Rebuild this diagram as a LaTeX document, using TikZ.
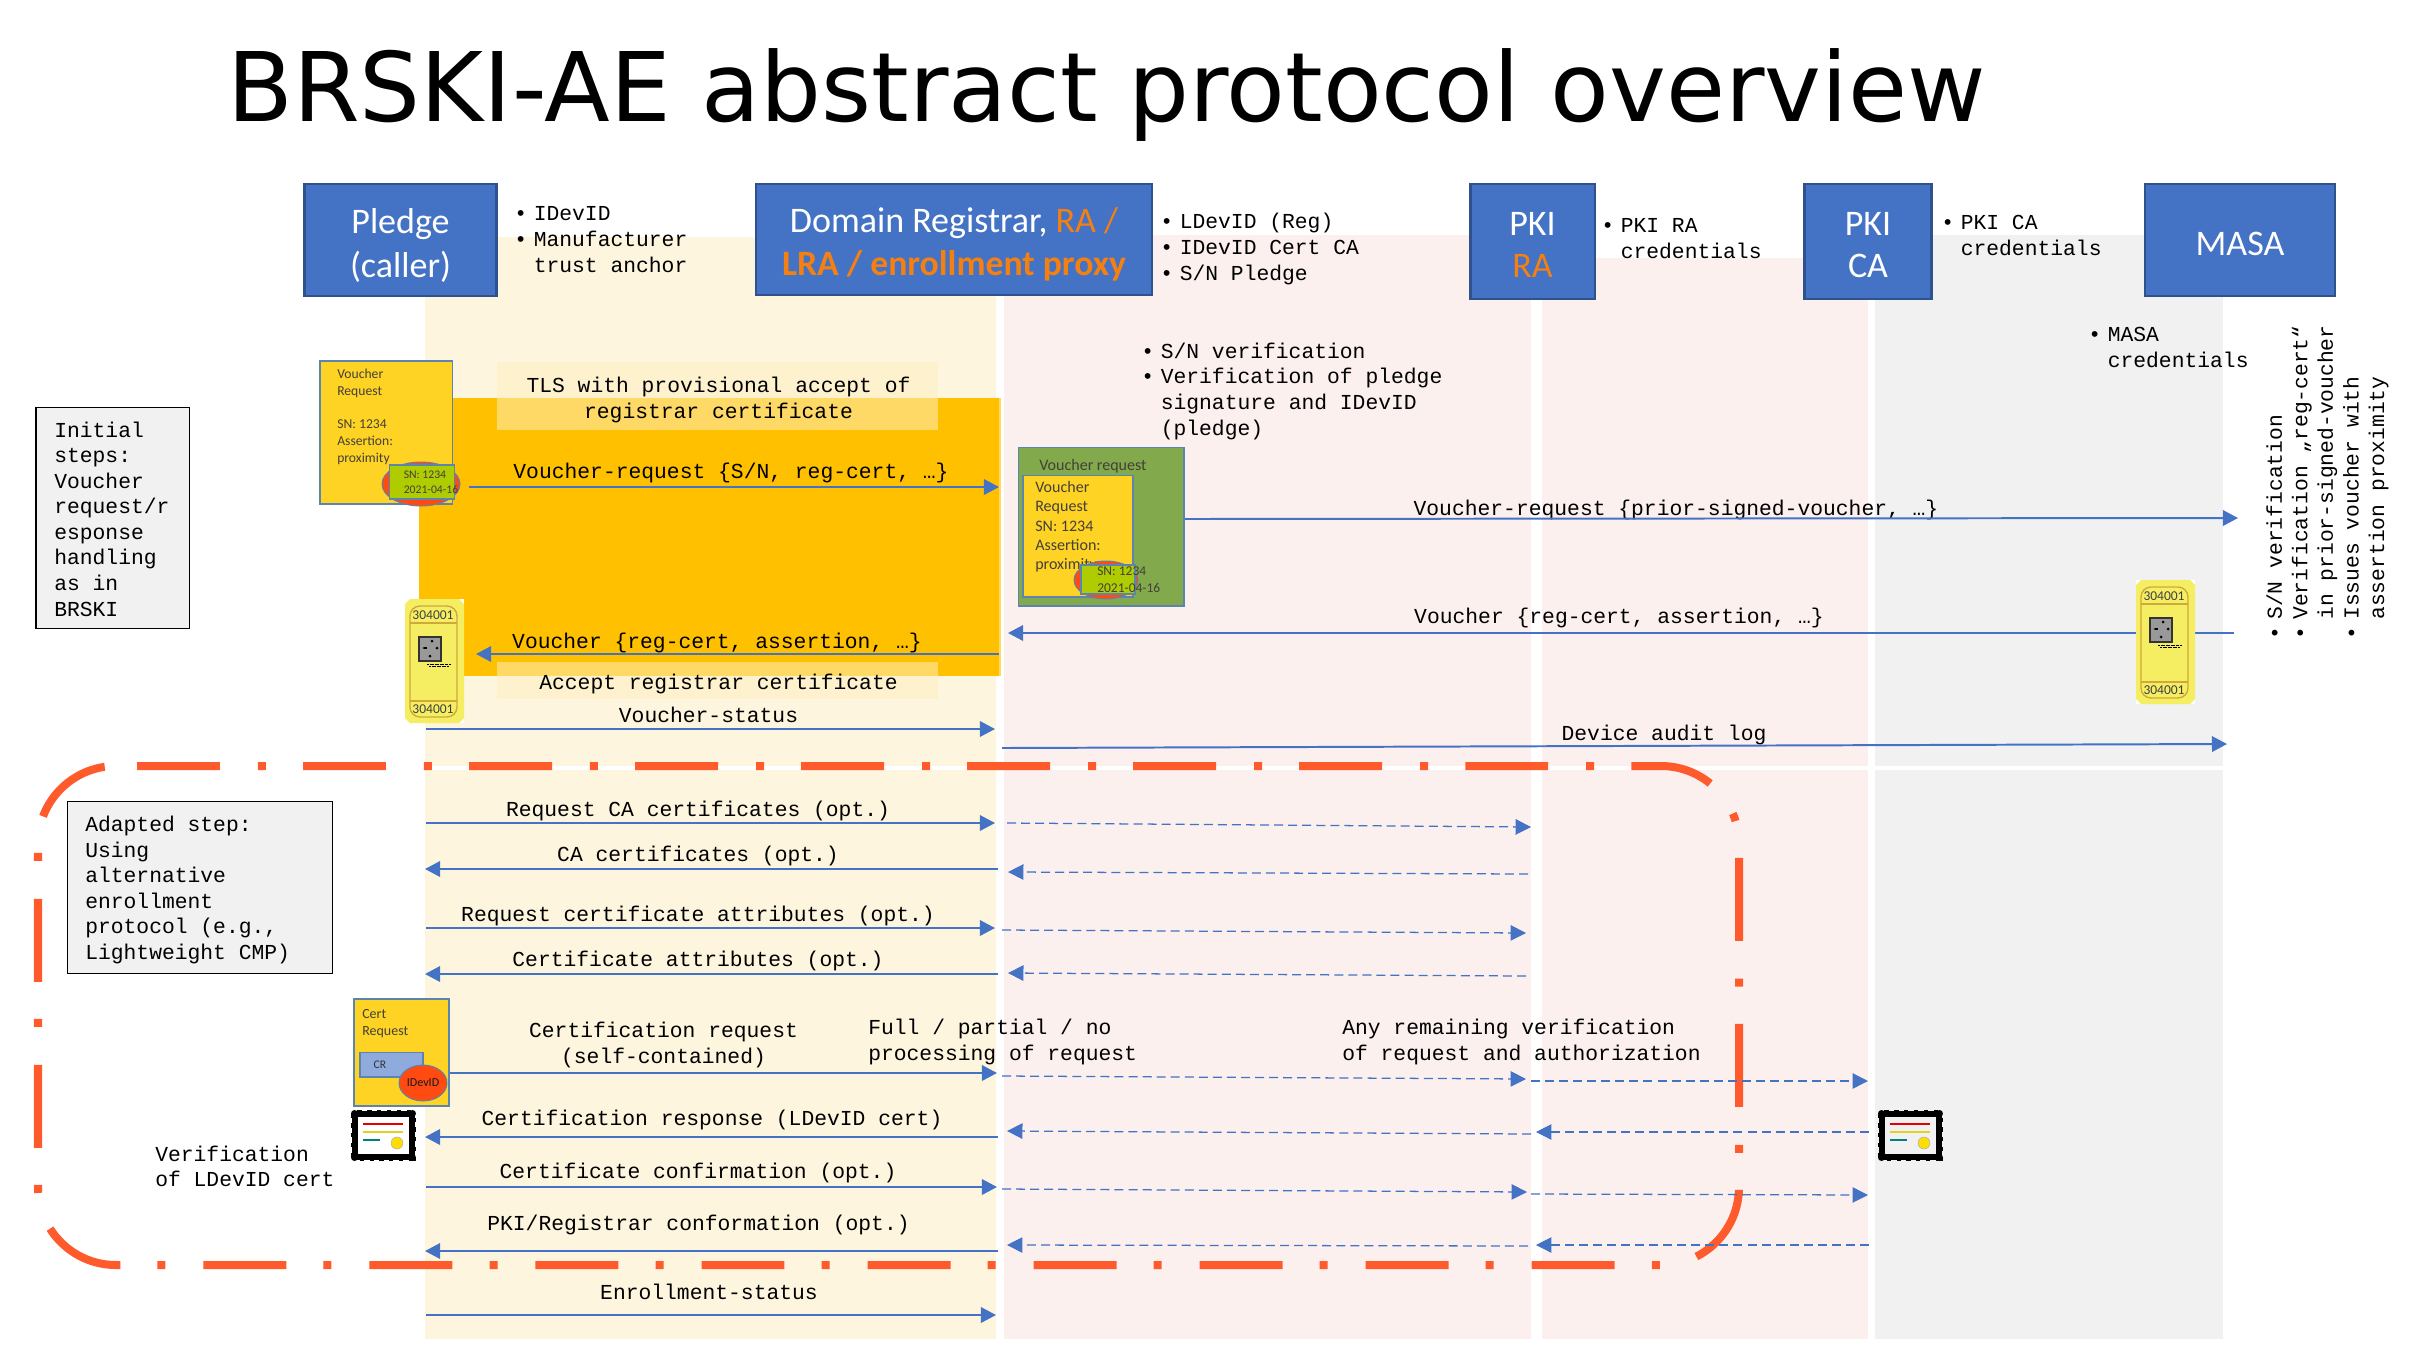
\documentclass[tikz,border=0pt]{standalone}
\usepackage{fontspec}
\setmainfont{Carlito}
\newfontfamily\monofam{Liberation Mono}
\newfontfamily\titlefam{DejaVu Sans}
\usetikzlibrary{arrows.meta}
\definecolor{bandY}{HTML}{FEF5DF}
\definecolor{bandR}{HTML}{FBF0EE}
\definecolor{bandG}{HTML}{F1F1F1}
\definecolor{actorblue}{HTML}{4472C4}
\definecolor{actoredge}{HTML}{2F528F}
\definecolor{accent}{HTML}{F58012}
\definecolor{redline}{HTML}{FF5A2B}
\definecolor{docyellow}{HTML}{FFD324}
\definecolor{sealred}{HTML}{FF4A12}
\definecolor{stampgreen}{HTML}{AECC00}
\definecolor{docedge}{HTML}{5B84AE}
\definecolor{ticketY}{HTML}{F5EE62}
\definecolor{ticketE}{HTML}{CFA93A}
\definecolor{tunnel}{HTML}{FFC000}
\definecolor{tunneledge}{HTML}{FFD966}
\definecolor{tunnellight}{HTML}{FFF0C0}
\definecolor{wrapgreen}{HTML}{82AA4C}
\definecolor{crblue}{HTML}{8FAADC}
\newcommand{\bul}{\makebox[13.87pt][l]{\textbullet}}
\newcommand{\nobul}{\makebox[13.87pt][l]{}}
\newcommand{\msg}[4]{\coordinate (#1a) at (#3); \coordinate (#1b) at (#4); \draw[#2] (#1a) -- (#1b);}
\tikzset{
  arrowsolid/.style={draw=actorblue,line width=1.4pt,-{Triangle[length=10.7pt,width=11pt]}},
  arrowdash/.style={draw=actorblue,line width=0.9pt,dash pattern=on 6.4pt off 3.6pt,-{Triangle[length=11pt,width=11pt]}},
  mono/.style={font=\monofam\fontsize{15.17}{18.15}\selectfont,inner sep=0pt,text=black},
  lbl/.style={mono,anchor=base,align=center},
  lst/.style={mono,anchor=base west,align=left},
  actor/.style={draw=actoredge,line width=1.7pt,fill=actorblue,inner sep=0pt},
  actortext/.style={font=\fontsize{25.6}{30.6}\selectfont,text=white,inner sep=0pt,anchor=base,align=center},
  sidebox/.style={draw=black,line width=1pt,fill=bandG},
  lightbar/.style={fill=tunnellight,fill opacity=.53},
  doc/.style={draw=docedge,line width=1pt,fill=docyellow},
  seal/.style={draw=docedge,line width=.7pt,fill=sealred},
  stamp/.style={draw=docedge,line width=1pt,fill=stampgreen},
  doct/.style={font=\fontsize{#1}{#1}\selectfont,text=black!85!yellow,inner sep=0pt,anchor=base west},
  ticket/.pic={
    \fill[white] (0,0) rectangle (59,124);
    \fill[ticketY] (5,0) -- (54,0) -- (59,5) -- (59,119) -- (54,124) -- (5,124) -- (0,119) -- (0,5) -- cycle;
    \draw[ticketE,line width=1pt,rounded corners=2.5mm] (5,7) rectangle (52,118);
    \draw[ticketE,line width=1pt] (5,24) -- (52,24) (5,102) -- (52,102);
    \node[font=\fontsize{9.6}{10}\selectfont,text=black!75,inner sep=0pt] (-num1) at (28,16) {304001};
    \node[font=\fontsize{9.6}{10}\selectfont,text=black!75,inner sep=0pt] (-num2) at (28,110) {304001};
    \draw[black!80,line width=1pt,fill=black!40] (14,38) rectangle (36,62);
    \draw[black,line width=.8pt,-{Latex[length=2pt]}] (22,49) -- (17,49);
    \fill[black] (27,42) circle (1.5) (32,49) circle (1.5) (25,57) circle (1.5);
    \draw[black,line width=.6pt,dash pattern=on .6pt off .3pt] (22,65) -- (46,65) (24,67.5) -- (44,67.5);
  },
  certicon/.pic={
    \draw[black,line width=3.6pt] (3,3) rectangle (60,46);
    \draw[black,line width=4.6pt,dash pattern=on 3pt off 4pt] (2.5,2.5) rectangle (60.5,46.5);
    \fill[black] (2.5,2.5) circle (3.5) (60.5,2.5) circle (3.5) (2.5,46.5) circle (3.5) (60.5,46.5) circle (3.5);
    \draw[red!90!black,line width=1.5pt] (11,13) -- (51,13);
    \draw[yellow!85!black,line width=1.5pt] (11,21) -- (51,21);
    \draw[teal,line width=1.2pt] (11,29) -- (28,29);
    \fill[draw=black!30,fill=yellow!80!orange] (45,32) circle (6);
  },
}
\begin{document}
\begin{tikzpicture}[x=0.25mm,y=-0.25mm]
\useasboundingbox (0,0) rectangle (2425,1369);
\fill[white] (0,0) rectangle (2425,1369);

% bands
\fill[bandY] (425,237) rectangle (996,1339);
\fill[bandR] (1004,235) rectangle (1531,1339);
\fill[bandR] (1542,258) rectangle (1868,1339);
\fill[bandG] (1875,235) rectangle (2223,1339);
\fill[white] (425,765.5) rectangle (2223,770);

% TLS tunnel
\fill[tunneledge] (999,398) rectangle (1001,676);
\fill[tunnel] (419,398) rectangle (999,676);
\fill[lightbar] (497,362) rectangle (938,430);
\fill[lightbar] (497,662) rectangle (938,699);

% adapted step outline
\draw[redline,line width=5.7pt,dash pattern=on 59pt off 27pt on 5.7pt off 26.4pt,rounded corners=19.5mm]
  (137,766) -- (1739,766) -- (1739,1265) -- (38,1265) -- (38,766) -- (139,766);

% title
\node[font=\titlefam\fontsize{68.3}{75}\selectfont,inner sep=0pt,anchor=base] (title) at (1106.5,121) {BRSKI-AE abstract protocol overview};

% actors
\node[actor] (pledge) at (400.5,240) [minimum width=136.5pt,minimum height=79.5pt] {};
\node[actor] (registrar) at (954,239.5) [minimum width=281.5pt,minimum height=79pt] {};
\node[actor] (ra) at (1532.5,241.5) [minimum width=88.5pt,minimum height=81.5pt] {};
\node[actor] (ca) at (1868,241.5) [minimum width=90.5pt,minimum height=81.5pt] {};
\node[actor] (masa) at (2240,240) [minimum width=135pt,minimum height=79.5pt] {};
\node[actortext] (pledgeT) at (400.5,233) {Pledge};
\node[actortext] (pledgeT2) at (400.5,277) {(caller)};
\node[actortext] (regT) at (954,232) {Domain Registrar, \textcolor{accent}{RA /}};
\node[actortext,text=accent,font=\bfseries\fontsize{25.4}{30.6}\selectfont] (regT2) at (954,275) {LRA / enrollment proxy};
\node[actortext] (raT) at (1532.5,235) {PKI};
\node[actortext,text=accent] (raT2) at (1532.5,277) {RA};
\node[actortext] (caT) at (1868,235) {PKI};
\node[actortext] (caT2) at (1868,277) {CA};
\node[actortext] (masaT) at (2240,255) {MASA};

% actor notes (anchored at the baseline of the last line)
\node[lst] (n1) at (514,272) {\bul IDevID\\\bul Manufacturer\\\nobul trust anchor};
\node[lst] (n2) at (1160,280) {\bul LDevID (Reg)\\\bul IDevID Cert CA\\\bul S/N Pledge};
\node[lst] (n3) at (1601,258.5) {\bul PKI RA\\\nobul credentials};
\node[lst] (n4) at (1941,255) {\bul PKI CA\\\nobul credentials};
\node[lst] (n5) at (2088,367.5) {\bul MASA\\\nobul credentials};
\node[lst] (n6) at (1141,435) {\bul S/N verification\\\bul Verification of pledge\\\nobul signature and IDevID\\\nobul (pledge)};
\node[lst,rotate=90] (n7) at (2384,639.5) {\bul S/N verification\\\bul Verification „reg-cert“\\\nobul in prior-signed-voucher\\\bul Issues voucher with\\\nobul assertion proximity};

% side boxes
\node[sidebox] (initbox) at (112.75,518) [minimum width=109pt,minimum height=157.5pt] {};
\node[lst] (initT) at (54,616) {Initial\\steps:\\Voucher\\request/r\\esponse\\handling\\as in\\BRSKI};
\node[sidebox] (adaptbox) at (199.75,887.5) [minimum width=188.5pt,minimum height=122pt] {};
\node[lst] (adaptT) at (85,959.5) {Adapted step:\\Using\\alternative\\enrollment\\protocol (e.g.,\\Lightweight CMP)};
\node[lst] (verifT) at (155,1186.5) {Verification\\of LDevID cert};

% message labels
\node[lbl] (m1) at (718.5,418) {TLS with provisional accept of\\registrar certificate};
\node[lbl] (m2) at (731,478) {Voucher-request \{S/N, reg-cert, …\}};
\node[lbl] (m3) at (717,648) {Voucher \{reg-cert, assertion, …\}};
\node[lbl] (m4) at (718.5,689) {Accept registrar certificate};
\node[lbl] (m5) at (708.5,722) {Voucher-status};
\node[lbl] (m6) at (1676,515) {Voucher-request \{prior-signed-voucher, …\}};
\node[lbl] (m7) at (1619,623) {Voucher \{reg-cert, assertion, …\}};
\node[lbl] (m8) at (1664,740) {Device audit log};
\node[lbl] (m9) at (698,816.5) {Request CA certificates (opt.)};
\node[lbl] (m10) at (698,861) {CA certificates (opt.)};
\node[lbl] (m11) at (698,921) {Request certificate attributes (opt.)};
\node[lbl] (m12) at (698,966) {Certificate attributes (opt.)};
\node[lbl] (m13) at (663.5,1063.5) {Certification request\\(self-contained)};
\node[lbl] (m14) at (712,1125) {Certification response (LDevID cert)};
\node[lbl] (m15) at (698,1178) {Certificate confirmation (opt.)};
\node[lbl] (m16) at (698.5,1230) {PKI/Registrar conformation (opt.)};
\node[lbl] (m17) at (709,1299) {Enrollment-status};
\node[lst] (m18) at (868,1060.5) {Full / partial / no\\processing of request};
\node[lst] (m19) at (1342,1060.5) {Any remaining verification\\of request and authorization};

% messages
\msg{a1}{arrowsolid}{469,487}{999,487}
\msg{a2}{arrowsolid}{999,654}{476,654}
\msg{a3}{arrowsolid}{426,729}{995,729}
\msg{a4}{arrowsolid}{1183,519}{2238,518}
\msg{a5}{arrowsolid}{2234,633}{1008,633}
\msg{a6}{arrowsolid}{1002,748}{2227,744}
\msg{b1}{arrowsolid}{426,823}{995,823}
\msg{b1d}{arrowdash}{1007,823}{1531,827}
\msg{b2}{arrowsolid}{998,869}{425,869}
\msg{b2d}{arrowdash}{1528,874}{1008,872}
\msg{b3}{arrowsolid}{426,928}{995,928}
\msg{b3d}{arrowdash}{1002,930}{1526,933}
\msg{b4}{arrowsolid}{998,974}{425,974}
\msg{b4d}{arrowdash}{1526,976}{1008,973}
\msg{b5}{arrowsolid}{449,1073}{997,1073}
\msg{b5d}{arrowdash}{1002,1076}{1526,1079}
\msg{b5e}{arrowdash}{1531,1081}{1868,1081}
\msg{b6}{arrowsolid}{998,1137}{425,1137}
\msg{b6d}{arrowdash}{1531,1134}{1007,1131}
\msg{b6e}{arrowdash}{1869,1132}{1536,1132}
\msg{b7}{arrowsolid}{426,1187}{997,1187}
\msg{b7d}{arrowdash}{1002,1189}{1527,1192}
\msg{b7e}{arrowdash}{1531,1194}{1868,1195}
\msg{b8}{arrowsolid}{998,1251}{425,1251}
\msg{b8d}{arrowdash}{1528,1246}{1007,1245}
\msg{b8e}{arrowdash}{1869,1245}{1536,1245}
\msg{b9}{arrowsolid}{426,1315}{996,1315}

% voucher request document
\node[doc,minimum width=94pt,minimum height=101.5pt,inner sep=0pt] (vr) at (386.25,432.5) {};
\node[doct=9.7] (vr1) at (337,378) {Voucher};
\node[doct=9.7] (vr2) at (337,395) {Request};
\node[doct=9.7] (vr3) at (337,428) {SN: 1234};
\node[doct=9.7] (vr4) at (337,445) {Assertion:};
\node[doct=9.7] (vr5) at (337,462) {proximity};
\fill[seal] (421,484) ellipse (39 and 22);
\node[stamp,minimum width=46.5pt,minimum height=24pt,inner sep=0pt] (vrs) at (422,482) {};
\node[doct=8.3] (vrs1) at (403.5,478) {SN: 1234};
\node[doct=8.3] (vrs2) at (403.5,493) {2021-04-16};

% wrapped voucher request
\node[draw=docedge,line width=.8pt,fill=wrapgreen,minimum width=118pt,minimum height=113pt,inner sep=0pt] (wr) at (1101,526.5) {};
\node[doct=11.4] (wrT) at (1039,470) {Voucher request};
\node[doc,minimum width=78pt,minimum height=86.5pt,inner sep=0pt] (wri) at (1078,536) {};
\node[doct=11.4] (wr1) at (1035,492) {Voucher};
\node[doct=11.4] (wr2) at (1035,511) {Request};
\node[doct=11.4] (wr3) at (1035,531) {SN: 1234};
\node[doct=11.4] (wr4) at (1035,550) {Assertion:};
\node[doct=11.4] (wr5) at (1035,569) {proximity};
\fill[seal] (1106,580) ellipse (32 and 19);
\node[stamp,minimum width=38.4pt,minimum height=20.6pt,inner sep=0pt] (wrs) at (1108,579.5) {};
\node[doct=9.6] (wrs1) at (1097,575) {SN: 1234};
\node[doct=9.6] (wrs2) at (1097,592) {2021-04-16};

% vouchers
\pic (tL) at (405,599) {ticket};
\pic (tR) at (2136,580) {ticket};

% cert request document
\node[doc,minimum width=67.5pt,minimum height=76pt,inner sep=0pt] (cr) at (401.5,1052.5) {};
\node[doct=9.95] (cr1) at (362,1018) {Cert};
\node[doct=9.95] (cr2) at (362,1035) {Request};
\node[draw=docedge,line width=.8pt,fill=crblue,minimum width=44.8pt,minimum height=17.4pt,inner sep=0pt] (crb) at (391.5,1064.75) {};
\node[font=\fontsize{8.3}{10}\selectfont,text=black!80,inner sep=0pt] (crbT) at (380,1065) {CR};
\fill[seal] (423,1083) ellipse (24 and 18);
\node[font=\fontsize{8.6}{10}\selectfont,text=black!90,inner sep=0pt] (crsT) at (423,1083) {IDevID};

% certificates
\pic (cL) at (352,1111) {certicon};
\pic (cR) at (1879,1111) {certicon};
\end{tikzpicture}
\end{document}
